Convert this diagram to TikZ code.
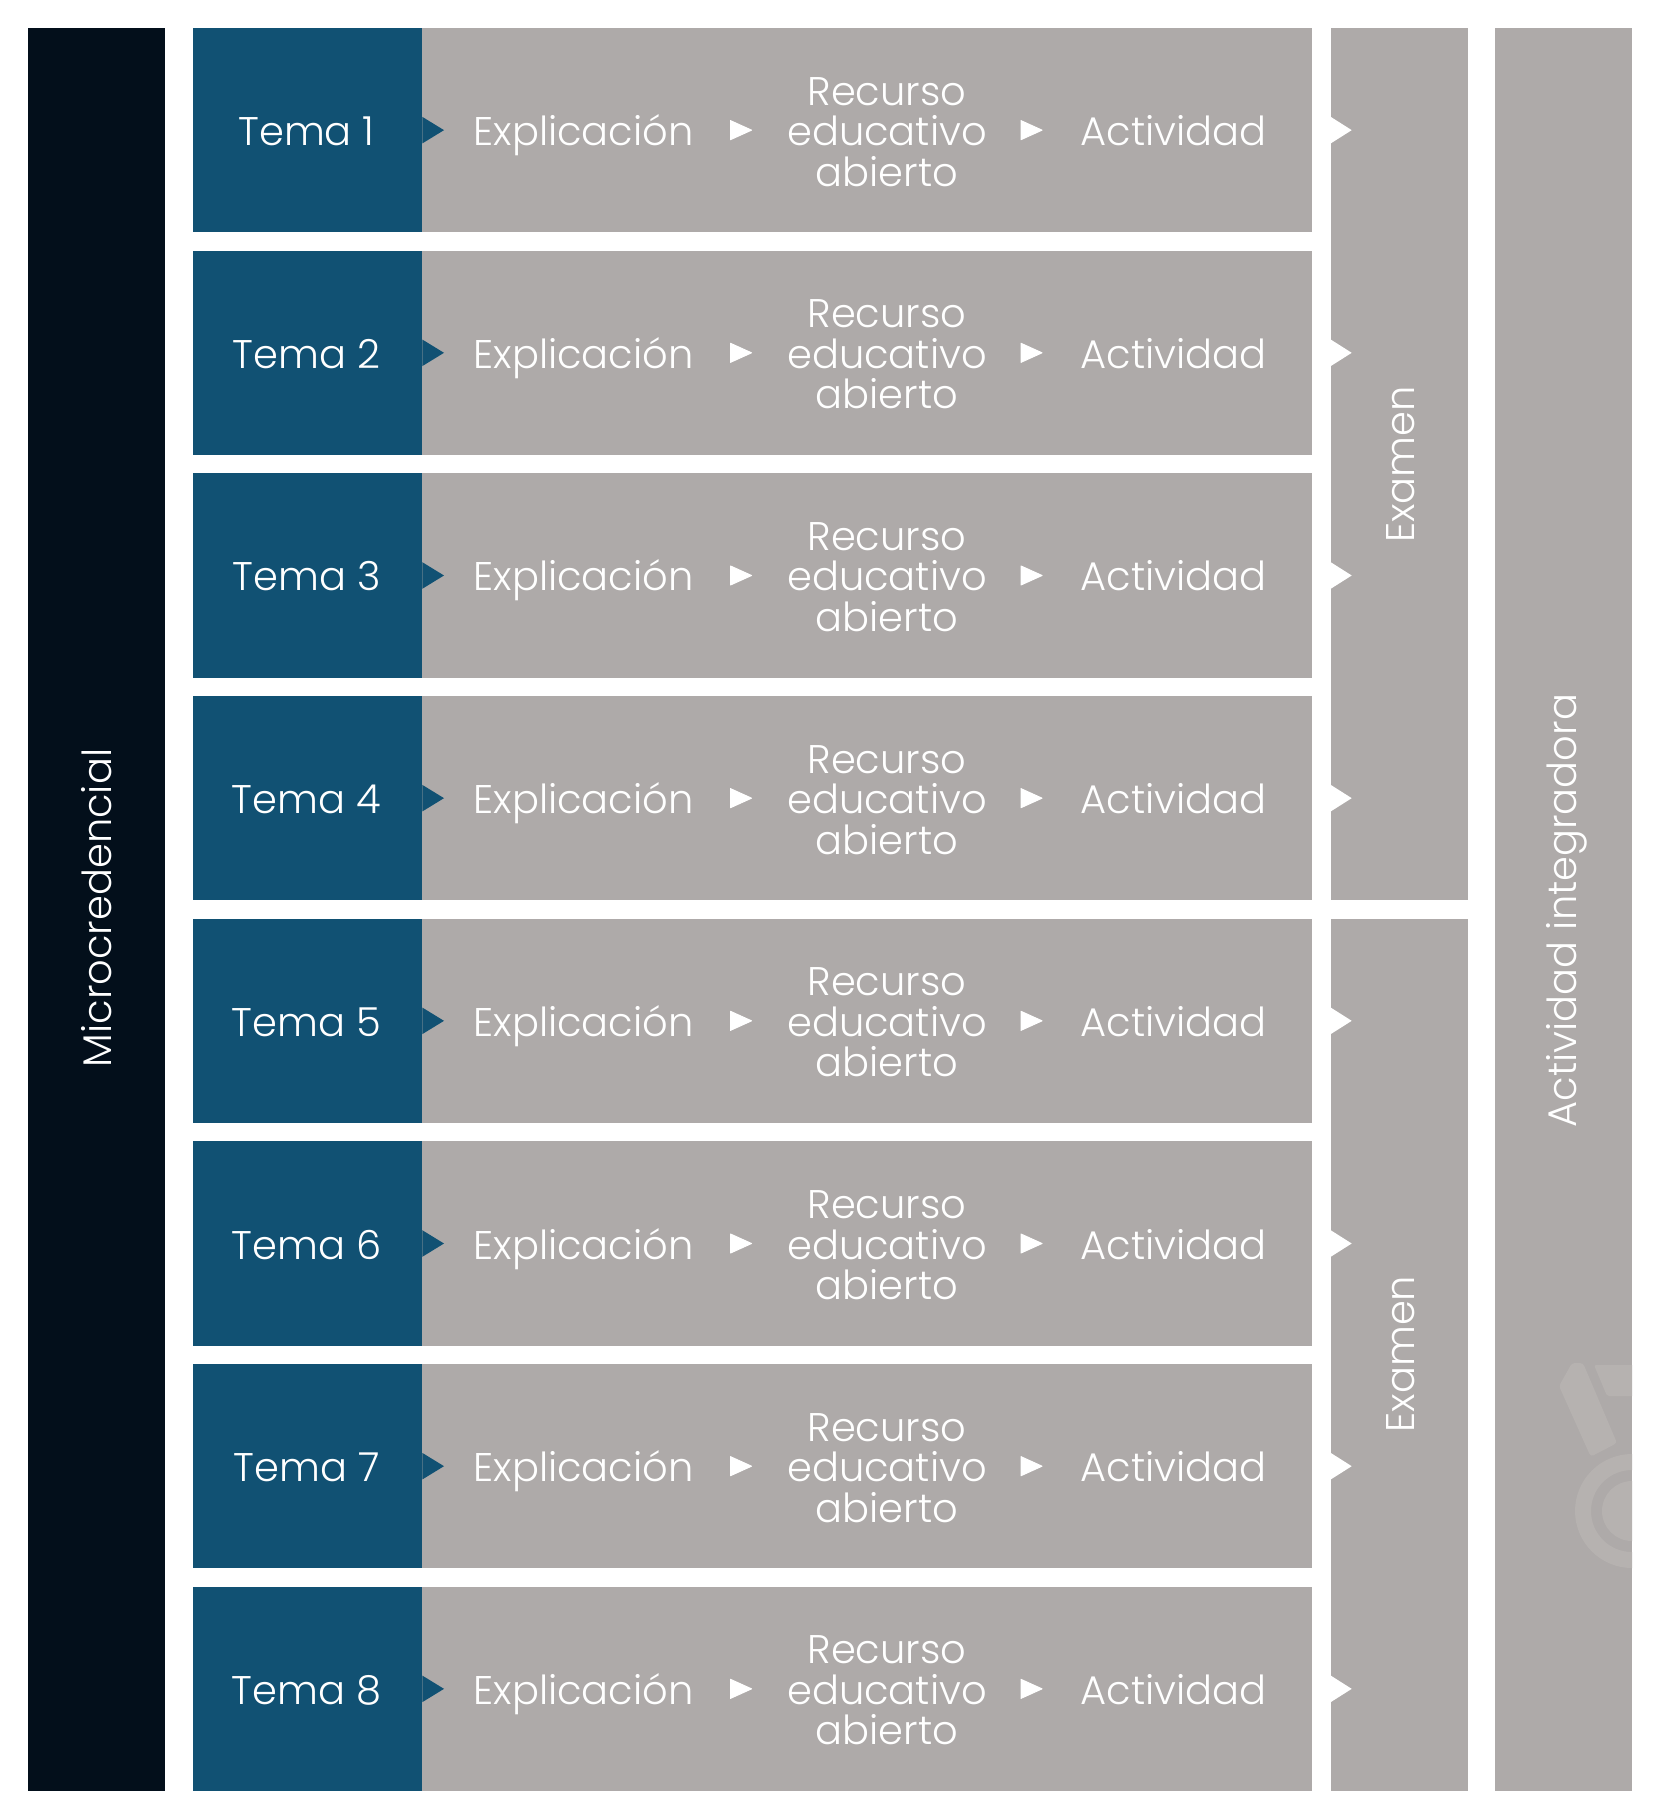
\documentclass[tikz,border=0pt]{standalone}
\usepackage{fontspec}
\setmainfont{Poppins}[UprightFont=* Light]
\definecolor{navy}{HTML}{030F1B}
\definecolor{tealblue}{HTML}{115173}
\definecolor{stone}{HTML}{AEAAA9}
\definecolor{stonelight}{HTML}{B6B2B0}
\tikzset{
  x=1pt,y=-1pt,
  lab/.style={text=white,font=\fontsize{40}{40.5}\selectfont,inner sep=0,anchor=base},
  stack/.style={lab,align=center,text width=300},
  side/.style={lab,rotate=90},
  tip/.style={fill=white,draw=white,line width=1pt,line join=round},
}
\begin{document}
\begin{tikzpicture}
\useasboundingbox (0,0) rectangle (1660,1819);
\fill[white] (0,0) rectangle (1660,1819);
\fill[navy] (28,28) rectangle (165,1791);
\node[side] (micro) at (111,908) {Microcredencial};
% exam and integrating columns
\fill[stone] (1330.7,28) rectangle (1467.7,900.3);
\fill[stone] (1330.7,918.7) rectangle (1467.7,1791);
\fill[stone] (1495,28) rectangle (1632,1791);
% watermark
\begin{scope}
\clip (1495,28) rectangle (1632,1791);
\fill[stonelight,rounded corners=3pt] (1559,1386) -- (1572,1363) -- (1583,1363) -- (1617,1443) -- (1590.7,1456.7) -- cycle;
\fill[stonelight,rounded corners=2pt] (1594,1365) -- (1640,1365) -- (1640,1396) -- (1607,1396) -- cycle;
\fill[stonelight,even odd rule] (1632,1511) circle (57) (1632,1511) circle (41);
\fill[stonelight] (1632,1511) circle (30);
\end{scope}
\node[side] (exa) at (1414,464.5) {Examen};
\node[side] (exb) at (1414,1354) {Examen};
\node[side] (act) at (1576.5,910.5) {Actividad integradora};
\foreach \i/\n in {0/1,1/2,2/3,3/4,4/5,5/6,6/7,7/8}{
  \pgfmathsetmacro{\t}{28+222.67*\i}
  \pgfmathsetmacro{\m}{\t+102.15}
  \pgfmathsetmacro{\b}{\t+204.3}
  \pgfmathsetmacro{\bl}{\m+15.5}
  \pgfmathsetmacro{\tl}{\bl-40.5}
  \fill[stone] (192.5,\t) rectangle (1311.5,\b);
  \fill[tealblue] (192.5,\t) rectangle (422.3,\b);
  \fill[tealblue] (422.3,\m-13.3) -- (444,\m) -- (422.3,\m+13.3) -- cycle;
  \fill[white] (1330.7,\m-13.3) -- (1351.7,\m) -- (1330.7,\m+13.3) -- cycle;
  \node[lab] (t\n) at (306.5,\bl) {Tema \n};
  \node[lab] (e\n) at (583.5,\bl) {Explicación};
  \node[stack] (r\n) at (887,\tl) {Recurso\\educativo\\abierto};
  \node[lab] (a\n) at (1173.5,\bl) {Actividad};
  \fill[tip] (730.5,\m-9.5) -- (751.5,\m) -- (730.5,\m+9.5) -- cycle;
  \fill[tip] (1021,\m-9.5) -- (1042,\m) -- (1021,\m+9.5) -- cycle;
}
\end{tikzpicture}
\end{document}
